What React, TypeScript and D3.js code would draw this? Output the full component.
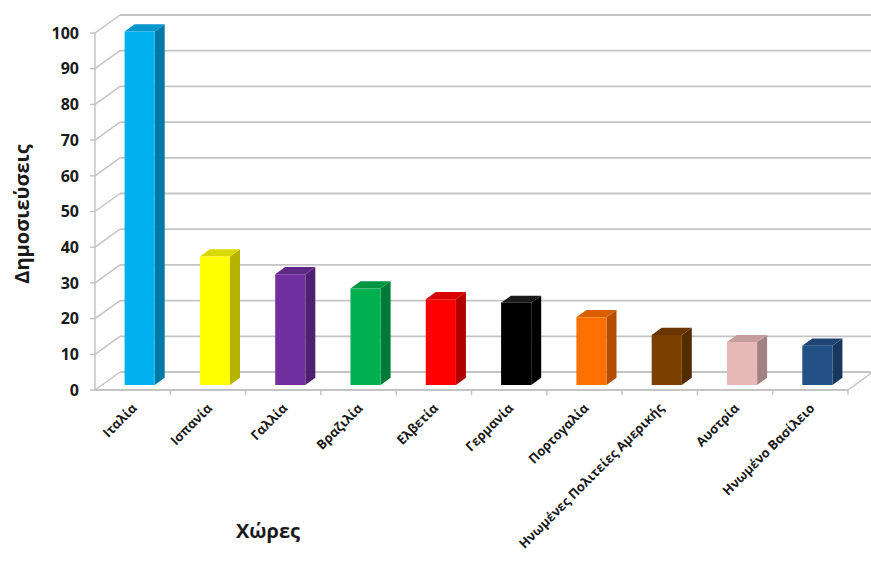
import React from "react";
import * as d3 from "d3";

const categories = [
  "Ιταλία",
  "Ισπανία",
  "Γαλλία",
  "Βραζιλία",
  "Ελβετία",
  "Γερμανία",
  "Πορτογαλία",
  "Ηνωμένες Πολιτείες Αμερικής",
  "Αυστρία",
  "Ηνωμένο Βασίλειο",
];
const values = [99, 36, 31, 27, 24, 23, 19, 14, 12, 11];
const frontColors = ["#00B0F0", "#FFFF00", "#7030A0", "#00B050", "#FF0000", "#000000", "#FF7000", "#7B3F00", "#E6B9B8", "#235087"];
const sideColors = ["#0079A6", "#B3B300", "#4E2170", "#007A38", "#B00000", "#000000", "#B34E00", "#552C00", "#A18181", "#17375F"];
const topColors = ["#0095CC", "#D9D900", "#5F2988", "#009544", "#D90000", "#1a1a1a", "#D95F00", "#683500", "#C49D9C", "#1D4472"];
const yTicks = [0, 10, 20, 30, 40, 50, 60, 70, 80, 90, 100];

const W = 871;
const H = 566;
const DX = 25;
const DY = -18;

export default function App() {
  const x = d3.scaleBand<string>().domain(categories).range([95, 848]).paddingInner(0).paddingOuter(0);
  const y = d3.scaleLinear().domain([0, 100]).range([390, 33]);
  const bw = x.bandwidth();
  const barW = bw * 0.4;
  const d0 = 0.28;
  const d1 = 0.68;
  const P = (px: number, v: number, d: number) => [px + DX * d, y(v) + DY * d];
  const pts = (arr: number[][]) => arr.map((p) => p.join(",")).join(" ");
  const grid = "#c4c4c4";
  const x0 = 95;
  const x1 = 848;

  return (
    <svg width={W} height={H} style={{ position: "absolute", left: 0, top: 0, background: "#fff" }}>
      {yTicks.map((t) => {
        const a = P(x0, t, 1);
        const b = P(x1, t, 1);
        return <line key={"g" + t} x1={a[0]} y1={a[1]} x2={b[0]} y2={b[1]} stroke={grid} strokeWidth={1.8} />;
      })}
      {yTicks.map((t) => {
        const a = P(x0, t, 0);
        const b = P(x0, t, 1);
        return <line key={"w" + t} x1={a[0]} y1={a[1]} x2={b[0]} y2={b[1]} stroke={grid} strokeWidth={1.5} />;
      })}
      <line x1={x0} y1={y(0)} x2={x0} y2={y(100)} stroke={grid} strokeWidth={1.5} />
      <line x1={x0} y1={y(0)} x2={x1} y2={y(0)} stroke={grid} strokeWidth={1.8} />
      {(() => {
        const a = P(x1, 0, 0);
        const b = P(x1, 0, 1);
        return <line x1={a[0]} y1={a[1]} x2={b[0]} y2={b[1]} stroke={grid} strokeWidth={1.5} />;
      })()}
      {yTicks.map((t) => (
        <line key={"yt" + t} x1={x0 - 5} y1={y(t)} x2={x0} y2={y(t)} stroke={grid} strokeWidth={1.5} />
      ))}
      {categories.map((c, i) => (
        <line key={"xt" + i} x1={(x(c) as number) + bw} y1={y(0)} x2={(x(c) as number) + bw} y2={y(0) + 5} stroke={grid} strokeWidth={1.5} />
      ))}
      {categories.map((c, i) => {
        const cx = (x(c) as number) + bw / 2;
        const l = cx - barW / 2;
        const r = cx + barW / 2;
        const v = values[i];
        const front = [P(l, 0, d0), P(r, 0, d0), P(r, v, d0), P(l, v, d0)];
        const side = [P(r, 0, d0), P(r, 0, d1), P(r, v, d1), P(r, v, d0)];
        const top = [P(l, v, d0), P(r, v, d0), P(r, v, d1), P(l, v, d1)];
        return (
          <g key={"b" + i}>
            <polygon points={pts(side)} fill={sideColors[i]} />
            <polygon points={pts(top)} fill={topColors[i]} />
            <polygon points={pts(front)} fill={frontColors[i]} />
          </g>
        );
      })}
      {yTicks.map((t) => (
        <text key={"yl" + t} x={79} y={y(t)} dy="0.36em" textAnchor="end" fontFamily="'Open Sans', sans-serif" fontWeight="bold" fontSize={16} fill="#1a1a1a">
          {t}
        </text>
      ))}
      {categories.map((c, i) => {
        const cx = (x(c) as number) + bw / 2 + 5;
        const ty = 409;
        return (
          <text key={"xl" + i} x={cx} y={ty} textAnchor="end" transform={`rotate(-45 ${cx} ${ty})`} fontFamily="'Open Sans', sans-serif" fontWeight="bold" fontSize={13} fill="#1a1a1a">
            {c}
          </text>
        );
      })}
      <text x={0} y={0} transform="translate(29 214) rotate(-90)" textAnchor="middle" fontFamily="'Open Sans', sans-serif" fontWeight="bold" fontSize={20} fill="#1a1a1a">
        Δημοσιεύσεις
      </text>
      <text x={268} y={538} textAnchor="middle" fontFamily="'Open Sans', sans-serif" fontWeight="bold" fontSize={20} fill="#1a1a1a">
        Χώρες
      </text>
    </svg>
  );
}
